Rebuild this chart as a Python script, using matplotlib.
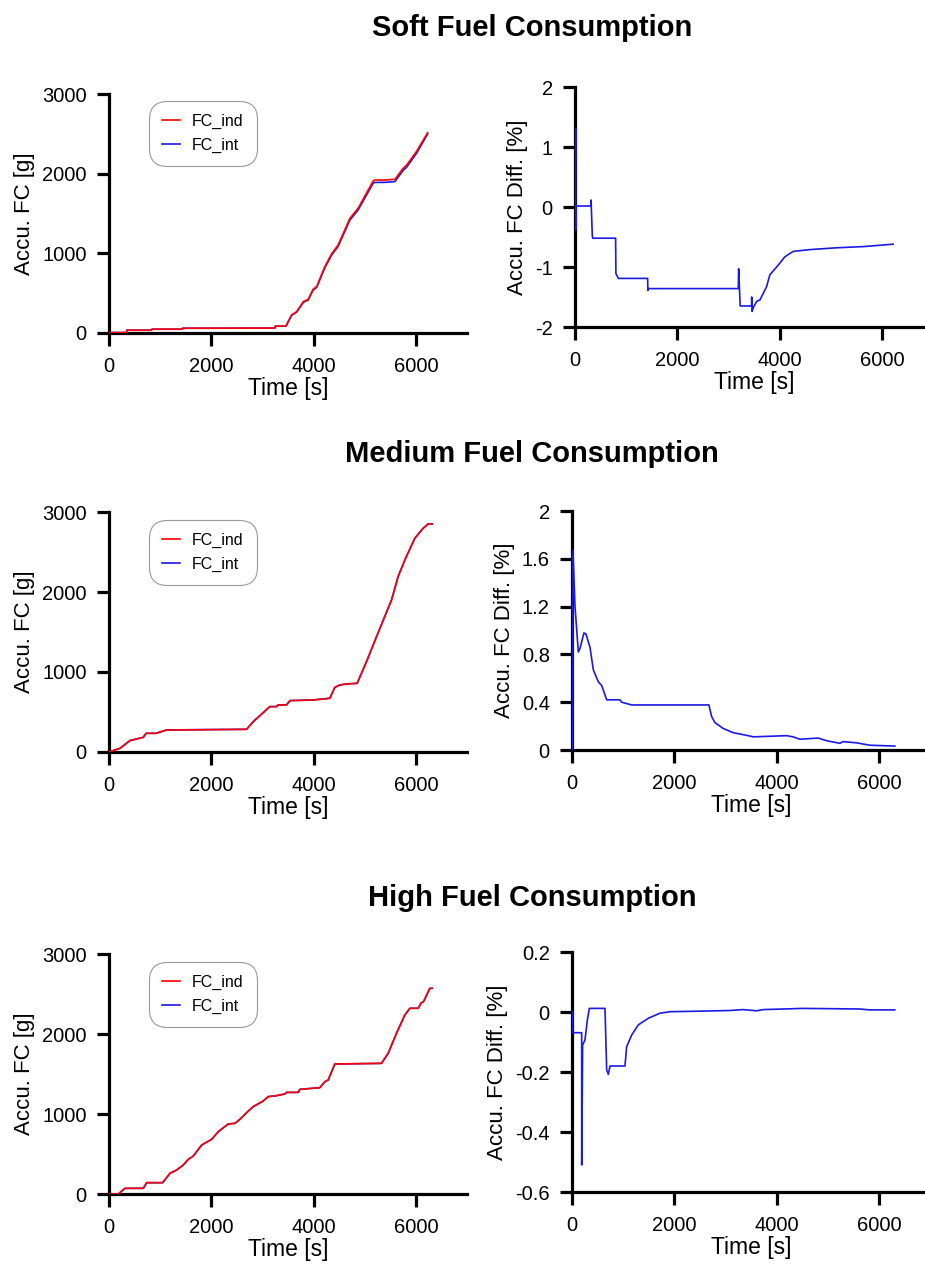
import matplotlib
matplotlib.use("Agg")
import matplotlib.pyplot as plt
from matplotlib.ticker import FormatStrFormatter

plt.rcParams["font.family"] = ["Liberation Sans", "DejaVu Sans"]
plt.rcParams["axes.unicode_minus"] = False

RED = "#ff0000"
BLUE = "#1a1ae6"

# ------------------------------------------------------------
# Data
# ------------------------------------------------------------
# Soft
soft_t = [0, 340, 350, 830, 840, 1430, 1440, 3240, 3250, 3460, 3570, 3670, 3800, 3895,
          3990, 4060, 4220, 4350, 4480, 4710, 4870, 5165, 5200, 5390, 5590, 5750,
          5820, 6010, 6230]
soft_ind = [5, 5, 35, 35, 48, 48, 60, 62, 85, 88, 226, 268, 393, 423, 548, 582, 832,
            991, 1104, 1439, 1565, 1908, 1920, 1920, 1929, 2066, 2108, 2276, 2514]
soft_int = [5, 5, 35, 35, 47, 47, 59, 61, 84, 86, 222, 262, 385, 414, 538, 571, 818,
            975, 1087, 1418, 1543, 1880, 1890, 1891, 1900, 2040, 2082, 2252, 2497]

soft_dt = [0, 13, 13, 20, 313, 314, 339, 350, 794, 800, 847, 1420, 1425, 1440, 3192,
           3200, 3230, 3452, 3455, 3462, 3490, 3555, 3615, 3745, 3810, 3973, 4103,
           4266, 4592, 5113, 5634, 6220]
soft_diff = [0.0, 1.31, -0.38, 0.017, 0.017, 0.117, -0.49, -0.52, -0.52, -1.11, -1.19,
             -1.19, -1.39, -1.36, -1.36, -1.03, -1.65, -1.65, -1.5, -1.74, -1.67, -1.57,
             -1.55, -1.33, -1.13, -0.97, -0.83, -0.74, -0.71, -0.68, -0.66, -0.62]

# Medium
med_t = [0, 215, 410, 671, 723, 918, 1127, 2690, 2820, 3146, 3276, 3309, 3472, 3537,
         3993, 4318, 4416, 4514, 4644, 4852, 5035, 5231, 5524, 5653, 5784, 5979, 6142,
         6240, 6318]
med_ind = [0, 46, 142, 183, 233, 233, 275, 283, 379, 567, 567, 588, 588, 642, 650, 671,
           808, 837, 850, 858, 1129, 1442, 1900, 2192, 2400, 2671, 2796, 2850, 2850]
med_int = [0, 46, 143, 184, 234, 234, 276, 284, 380, 568, 568, 589, 589, 643, 651, 672,
           809, 838, 851, 859, 1130, 1442, 1900, 2192, 2400, 2671, 2797, 2851, 2851]

med_dt = [0, 13, 18, 59, 124, 156, 234, 273, 352, 417, 515, 580, 678, 938, 971, 1166,
          2677, 2730, 2794, 2957, 3152, 3478, 3543, 4195, 4325, 4455, 4813, 4977, 5237,
          5300, 5563, 5823, 6312]
med_diff = [0.0, 0.01, 1.67, 1.2, 0.82, 0.85, 0.98, 0.97, 0.86, 0.67, 0.57, 0.54, 0.42,
            0.42, 0.40, 0.377, 0.377, 0.28, 0.23, 0.18, 0.145, 0.117, 0.11, 0.12, 0.11,
            0.09, 0.10, 0.078, 0.056, 0.07, 0.06, 0.04, 0.033]

# High
high_t = [0, 182, 313, 671, 736, 1049, 1192, 1322, 1452, 1550, 1648, 1811, 2006, 2137,
          2332, 2462, 2560, 2690, 2820, 3015, 3113, 3276, 3439, 3472, 3700, 3732, 4123,
          4221, 4286, 4416, 5328, 5458, 5621, 5784, 5882, 6044, 6109, 6150, 6273, 6318]
high_ind = [0, 0, 71, 71, 142, 142, 258, 300, 362, 433, 475, 612, 683, 779, 875, 883,
            933, 1017, 1092, 1162, 1217, 1229, 1250, 1270, 1270, 1308, 1329, 1404, 1425,
            1625, 1633, 1758, 2008, 2237, 2321, 2321, 2392, 2404, 2571, 2571]
high_int = [0, 0, 71, 71, 141, 141, 258, 300, 362, 433, 475, 612, 683, 779, 875, 883,
            933, 1017, 1092, 1162, 1217, 1229, 1250, 1270, 1270, 1308, 1329, 1404, 1425,
            1625, 1633, 1758, 2008, 2237, 2321, 2321, 2392, 2404, 2571, 2571]

high_dt = [0, 13, 14, 189, 190, 208, 254, 300, 339, 645, 678, 710, 743, 1036, 1068, 1166,
           1296, 1491, 1719, 1915, 2566, 3087, 3348, 3609, 3739, 4520, 5628, 5823, 6312]
high_diff = [0.0, 0.001, -0.069, -0.069, -0.51, -0.11, -0.093, -0.027, 0.012, 0.012,
             -0.193, -0.208, -0.18, -0.18, -0.116, -0.077, -0.043, -0.021, -0.004, 0.001,
             0.003, 0.005, 0.008, 0.004, 0.008, 0.012, 0.01, 0.007, 0.007]

titles = ["Soft Fuel Consumption", "Medium Fuel Consumption", "High Fuel Consumption"]
title_y = [0.978, 0.641, 0.2905]

diff_ylims = [(-2, 2), (0, 2), (-0.6, 0.2)]
diff_yticks = [[-2, -1, 0, 1, 2], [0, 0.4, 0.8, 1.2, 1.6, 2], [-0.6, -0.4, -0.2, 0, 0.2]]

# ------------------------------------------------------------
# Layout (pixel positions measured on the reference)
# ------------------------------------------------------------
W, H = 925, 1266
left_pos = [(109, 94, 333), (109, 512, 752), (109, 954, 1194)]
right_pos = [(575, 87, 327), (572, 511, 750), (572, 952, 1192)]
legend_top = [101, 520, 962]
AX_W = 358


def px_axes(fig, x0, ytop, ybot):
    return fig.add_axes([x0 / W, 1 - ybot / H, AX_W / W, (ybot - ytop) / H])


def style_axes(ax):
    for side in ["top", "right"]:
        ax.spines[side].set_visible(False)
    for side in ["left", "bottom"]:
        ax.spines[side].set_linewidth(2.3)
    ax.tick_params(direction="out", length=9, width=2.3, labelsize=14.5, color="black")
    ax.tick_params(axis="x", pad=8)
    ax.tick_params(axis="y", pad=7)
    ax.set_xlim(0, 7000)
    ax.set_xticks([0, 2000, 4000, 6000])
    ax.set_xlabel("Time [s]", fontsize=16.5, labelpad=1)


fig = plt.figure(figsize=(W / 100, H / 100), dpi=100)

fc_data = [(soft_t, soft_ind, soft_int), (med_t, med_ind, med_int), (high_t, high_ind, high_int)]
diff_data = [(soft_dt, soft_diff), (med_dt, med_diff), (high_dt, high_diff)]

for i in range(3):
    # accumulated fuel consumption
    x0, yt, yb = left_pos[i]
    ax = px_axes(fig, x0, yt, yb)
    t, ind, intg = fc_data[i]
    l_int, = ax.plot(t, intg, color=BLUE, linewidth=1.2, zorder=3, label="FC_int")
    l_ind, = ax.plot(t, ind, color=RED, linewidth=1.2, zorder=3, label="FC_ind")
    ax.set_ylim(0, 3000)
    ax.set_yticks([0, 1000, 2000, 3000])
    style_axes(ax)
    ax.set_ylabel("Accu. FC [g]", fontsize=16, labelpad=5)
    leg = ax.legend([l_ind, l_int], ["FC_ind", "FC_int"], loc="upper left",
                    bbox_to_anchor=((149 - x0) / AX_W, (yb - legend_top[i]) / (yb - yt)),
                    fontsize=11.5, frameon=True, fancybox=True, framealpha=1,
                    edgecolor="#999999", borderpad=0.8, handlelength=1.15,
                    handletextpad=0.75, labelspacing=0.55, borderaxespad=0)
    leg.get_frame().set_linewidth(0.8)
    leg.get_frame().set_boxstyle("round,pad=0,rounding_size=1.1")

    # accumulated FC difference
    x0, yt, yb = right_pos[i]
    ax = px_axes(fig, x0, yt, yb)
    dt, dv = diff_data[i]
    ax.plot(dt, dv, color=BLUE, linewidth=1.2, zorder=3)
    ax.set_ylim(*diff_ylims[i])
    ax.set_yticks(diff_yticks[i])
    ax.yaxis.set_major_formatter(FormatStrFormatter("%g"))
    style_axes(ax)
    ax.set_ylabel("Accu. FC Diff. [%]", fontsize=16, labelpad=5)

    fig.text(0.575, title_y[i], titles[i], fontsize=21, fontweight="bold",
             ha="center", va="center")

fig.savefig("out.png", dpi=100)
